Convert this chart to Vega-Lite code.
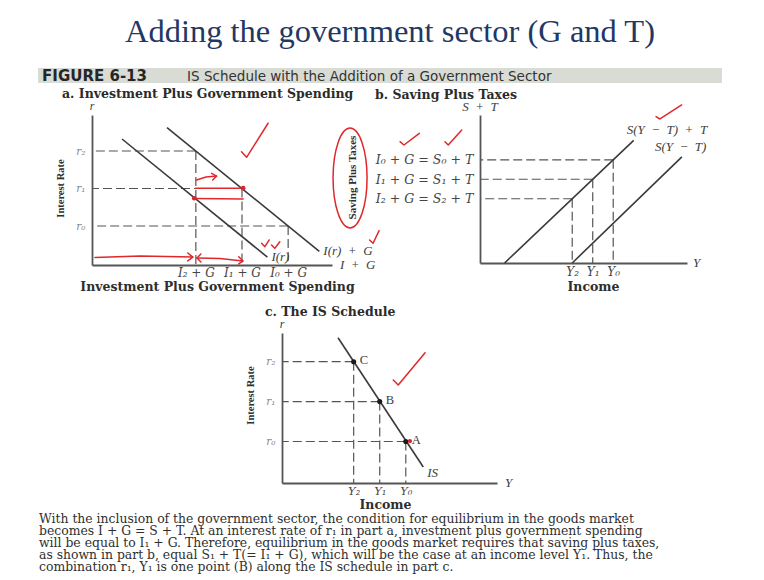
{
  "$schema": "https://vega.github.io/schema/vega-lite/v6.json",
  "padding": 0,
  "background": "#ffffff",
  "spacing": 0,
  "bounds": "flush",
  "config": {
    "view": {"stroke": null},
    "font": "Liberation Serif",
    "axis": {
      "grid": false,
      "ticks": false,
      "domainColor": "#555555",
      "domainWidth": 1.8,
      "labelFont": "DejaVu Serif",
      "labelFontStyle": "italic",
      "labelFontSize": 12,
      "labelColor": "#454545",
      "labelOverlap": false,
      "labelFlush": false,
      "titleFont": "DejaVu Serif",
      "titleFontWeight": "bold",
      "titleFontSize": 12.5,
      "titleColor": "#2e2e2e"
    },
    "title": {"anchor": "start", "frame": "group", "baseline": "alphabetic", "font": "DejaVu Serif", "fontSize": 12.5, "fontWeight": "bold", "color": "#2b2b2b"},
    "text": {"font": "Liberation Serif", "fontStyle": "italic", "fontSize": 13, "color": "#3d3d3d"},
    "rule": {"stroke": "#555555", "strokeWidth": 1.2, "strokeDash": [9, 4]},
    "line": {"stroke": "#3a3a3a", "strokeWidth": 1.6}
  },
  "datasets": {
    "equilibria": [
      {"state": 0, "r": 2.6, "IG": 8.5, "Y": 6.5, "point": "A"},
      {"state": 1, "r": 5.1, "IG": 6.5, "Y": 5.5, "point": "B"},
      {"state": 2, "r": 7.6, "IG": 4.5, "Y": 4.5, "point": "C"}
    ],
    "curves": [
      {"panel": "a", "series": "I(r)\u2002+\u2002G", "x": 3.25, "y": 9.16},
      {"panel": "a", "series": "I(r)\u2002+\u2002G", "x": 9.85, "y": 0.91},
      {"panel": "a", "series": "I(r)", "x": 1.3, "y": 8.4},
      {"panel": "a", "series": "I(r)", "x": 7.6, "y": 0.525},
      {"panel": "b", "series": "S(Y\u2002\u2212\u2002T)\u2002+\u2002T", "x": 1.2, "y": -2.1},
      {"panel": "b", "series": "S(Y\u2002\u2212\u2002T)\u2002+\u2002T", "x": 7.5, "y": 10.5},
      {"panel": "b", "series": "S(Y\u2002\u2212\u2002T)", "x": 4.5, "y": -2.1},
      {"panel": "b", "series": "S(Y\u2002\u2212\u2002T)", "x": 9.85, "y": 8.8},
      {"panel": "c", "series": "IS", "x": 3.9, "y": 9.1},
      {"panel": "c", "series": "IS", "x": 7.17, "y": 1.0}
    ],
    "ink": [
      {"panel": "a", "trace": "check", "i": 0, "x": 6.48, "y": 7.55},
      {"panel": "a", "trace": "check", "i": 1, "x": 6.7, "y": 7.18},
      {"panel": "a", "trace": "check", "i": 2, "x": 7.63, "y": 9.45},
      {"panel": "a", "trace": "arrowR1", "i": 0, "x": 4.53, "y": 5.67},
      {"panel": "a", "trace": "arrowR1", "i": 1, "x": 4.94, "y": 5.87},
      {"panel": "a", "trace": "arrowR1", "i": 2, "x": 5.4, "y": 5.93},
      {"panel": "a", "trace": "arrowR1Head", "i": 0, "x": 5.18, "y": 6.11},
      {"panel": "a", "trace": "arrowR1Head", "i": 1, "x": 5.4, "y": 5.93},
      {"panel": "a", "trace": "arrowR1Head", "i": 2, "x": 5.23, "y": 5.67},
      {"panel": "a", "trace": "barR1", "i": 0, "x": 4.49, "y": 5.12},
      {"panel": "a", "trace": "barR1", "i": 1, "x": 6.55, "y": 5.12},
      {"panel": "a", "trace": "barIr", "i": 0, "x": 4.46, "y": 4.43},
      {"panel": "a", "trace": "barIr", "i": 1, "x": 6.55, "y": 4.4},
      {"panel": "a", "trace": "arrowLong", "i": 0, "x": 0.13, "y": 0.5},
      {"panel": "a", "trace": "arrowLong", "i": 1, "x": 2.08, "y": 0.6},
      {"panel": "a", "trace": "arrowLong", "i": 2, "x": 4.37, "y": 0.53},
      {"panel": "a", "trace": "arrowLongHead", "i": 0, "x": 4.15, "y": 0.8},
      {"panel": "a", "trace": "arrowLongHead", "i": 1, "x": 4.37, "y": 0.53},
      {"panel": "a", "trace": "arrowLongHead", "i": 2, "x": 4.15, "y": 0.27},
      {"panel": "a", "trace": "arrowBoth", "i": 0, "x": 4.55, "y": 0.47},
      {"panel": "a", "trace": "arrowBoth", "i": 1, "x": 5.54, "y": 0.43},
      {"panel": "a", "trace": "arrowBoth", "i": 2, "x": 6.54, "y": 0.27},
      {"panel": "a", "trace": "arrowBothL", "i": 0, "x": 4.72, "y": 0.73},
      {"panel": "a", "trace": "arrowBothL", "i": 1, "x": 4.55, "y": 0.47},
      {"panel": "a", "trace": "arrowBothL", "i": 2, "x": 4.72, "y": 0.2},
      {"panel": "a", "trace": "arrowBothR", "i": 0, "x": 6.36, "y": 0.55},
      {"panel": "a", "trace": "arrowBothR", "i": 1, "x": 6.54, "y": 0.27},
      {"panel": "a", "trace": "arrowBothR", "i": 2, "x": 6.36, "y": 0.07},
      {"panel": "a", "trace": "tick1", "i": 0, "x": 7.35, "y": 1.45},
      {"panel": "a", "trace": "tick1", "i": 1, "x": 7.49, "y": 1.22},
      {"panel": "a", "trace": "tick1", "i": 2, "x": 7.68, "y": 1.67},
      {"panel": "a", "trace": "tick2", "i": 0, "x": 7.78, "y": 1.33},
      {"panel": "a", "trace": "tick2", "i": 1, "x": 7.92, "y": 1.11},
      {"panel": "a", "trace": "tick2", "i": 2, "x": 8.14, "y": 1.55},
      {"panel": "a", "trace": "tickG", "i": 0, "x": 12.03, "y": 1.67},
      {"panel": "a", "trace": "tickG", "i": 1, "x": 12.18, "y": 1.45},
      {"panel": "a", "trace": "tickG", "i": 2, "x": 12.44, "y": 2.29},
      {"panel": "b", "trace": "tickS0", "i": 0, "x": -3.9, "y": 10.36},
      {"panel": "b", "trace": "tickS0", "i": 1, "x": -3.71, "y": 10.02},
      {"panel": "b", "trace": "tickS0", "i": 2, "x": -2.96, "y": 11.22},
      {"panel": "b", "trace": "tickS1", "i": 0, "x": -1.71, "y": 10.36},
      {"panel": "b", "trace": "tickS1", "i": 1, "x": -1.55, "y": 10.02},
      {"panel": "b", "trace": "tickS1", "i": 2, "x": -0.89, "y": 11.56},
      {"panel": "b", "trace": "tickTop", "i": 0, "x": 8.59, "y": 12.93},
      {"panel": "b", "trace": "tickTop", "i": 1, "x": 8.78, "y": 12.69},
      {"panel": "b", "trace": "tickTop", "i": 2, "x": 9.84, "y": 14.13},
      {"panel": "c", "trace": "tickIS", "i": 0, "x": 6.02, "y": 6.45},
      {"panel": "c", "trace": "tickIS", "i": 1, "x": 6.21, "y": 6.14},
      {"panel": "c", "trace": "tickIS", "i": 2, "x": 7.24, "y": 8.16}
    ],
    "inkDots": [
      {"panel": "a", "x": 6.55, "y": 5.12},
      {"panel": "a", "x": 4.43, "y": 4.45},
      {"panel": "c", "x": 6.66, "y": 2.63}
    ],
    "inkRings": [
      {"panel": "b", "x": -6.34, "y": 6.63}
    ],
    "header": [
      {"part": "number", "label": "FIGURE 6-13"},
      {"part": "caption", "label": "IS Schedule with the Addition of a Government Sector"}
    ],
    "caption": [
      {"line": 1, "text": "With the inclusion of the government sector, the condition for equilibrium in the goods market"},
      {"line": 2, "text": "becomes I + G = S + T. At an interest rate of r\u2081 in part a, investment plus government spending"},
      {"line": 3, "text": "will be equal to I\u2081 + G. Therefore, equilibrium in the goods market requires that saving plus taxes,"},
      {"line": 4, "text": "as shown in part b, equal S\u2081 + T(= I\u2081 + G), which will be the case at an income level Y\u2081. Thus, the"},
      {"line": 5, "text": "combination r\u2081, Y\u2081 is one point (B) along the IS schedule in part c."}
    ]
  },
  "vconcat": [
    {
      "width": 764,
      "height": 68,
      "data": {"values": [{"heading": "Adding the government sector (G and T)"}]},
      "mark": {"type": "text", "font": "Liberation Serif", "fontStyle": "normal", "fontSize": 32.5, "color": "#1f3864", "align": "center", "baseline": "alphabetic", "dx": 8, "dy": 8},
      "encoding": {"text": {"field": "heading"}}
    },
    {
      "hconcat": [
        {"width": 38, "height": 15, "data": {"values": []}, "mark": "point", "encoding": {}},
        {
          "width": 684,
          "height": 15,
          "view": {"fill": "#d9dcd5", "stroke": null},
          "data": {"name": "header"},
          "layer": [
            {
              "transform": [{"filter": "datum.part == 'number'"}],
              "mark": {"type": "text", "font": "DejaVu Sans", "fontStyle": "normal", "fontWeight": "bold", "fontSize": 15, "color": "#262626", "align": "left", "baseline": "middle", "dy": 0.5},
              "encoding": {
                "x": {"datum": 0.006, "type": "quantitative", "scale": {"domain": [0, 1]}, "axis": null},
                "text": {"field": "label"}
              }
            },
            {
              "transform": [{"filter": "datum.part == 'caption'"}],
              "mark": {"type": "text", "font": "DejaVu Sans", "fontStyle": "normal", "fontSize": 13.5, "color": "#333333", "align": "left", "baseline": "middle", "dy": 1},
              "encoding": {
                "x": {"datum": 0.218, "type": "quantitative", "scale": {"domain": [0, 1]}, "axis": null},
                "text": {"field": "label"}
              }
            }
          ]
        },
        {"width": 42, "height": 15, "data": {"values": []}, "mark": "point", "encoding": {}}
      ],
      "spacing": 0,
      "bounds": "flush"
    },
    {"width": 764, "height": 47, "data": {"values": []}, "mark": "point", "encoding": {}},
    {
      "hconcat": [
        {"width": 92, "height": 150, "data": {"values": []}, "mark": "point", "encoding": {}},
        {
          "width": 240,
          "height": 150,
          "title": {"text": "a. Investment Plus Government Spending", "dx": -30, "offset": 0},
          "layer": [
            {
              "data": {"name": "equilibria"},
              "mark": {"type": "rule"},
              "encoding": {
                "x": {"field": "IG", "type": "quantitative", "scale": {"domain": [0, 10.4], "nice": false, "zero": false},
                  "axis": {"title": "Investment Plus Government Spending", "values": [4.5, 6.5, 8.5],
                    "labelExpr": "datum.value < 5 ? 'I\u2082 + G' : datum.value < 7 ? 'I\u2081 + G' : 'I\u2080 + G'",
                    "labelPadding": 2, "titleX": 125, "titleY": 25, "titleBaseline": "alphabetic"}},
                "x2": {"value": 0},
                "y": {"field": "r", "type": "quantitative", "scale": {"domain": [0, 10], "nice": false, "zero": false},
                  "axis": {"title": "Interest Rate", "values": [2.6, 5.1, 7.6],
                    "labelExpr": "datum.value < 3 ? 'r\u2080' : datum.value < 6 ? 'r\u2081' : 'r\u2082'",
                    "labelColor": "#8a8a8a", "labelFontSize": 10.5, "labelPadding": 7,
                    "titleFont": "Liberation Serif", "titleFontSize": 10.5, "titleX": -32, "titleY": 73, "titleAngle": -90, "titleBaseline": "middle"}}
              }
            },
            {
              "data": {"name": "equilibria"},
              "mark": {"type": "rule"},
              "encoding": {
                "x": {"field": "IG", "type": "quantitative", "scale": {"domain": [0, 10.4], "nice": false, "zero": false}},
                "y": {"field": "r", "type": "quantitative", "scale": {"domain": [0, 10], "nice": false, "zero": false}},
                "y2": {"value": "height"}
              }
            },
            {
              "data": {"name": "curves"},
              "transform": [{"filter": "datum.panel == 'a'"}],
              "mark": {"type": "line"},
              "encoding": {
                "x": {"field": "x", "type": "quantitative", "scale": {"domain": [0, 10.4], "nice": false, "zero": false}},
                "y": {"field": "y", "type": "quantitative", "scale": {"domain": [0, 10], "nice": false, "zero": false}},
                "detail": {"field": "series"}
              }
            },
            {
              "data": {"name": "curves"},
              "transform": [
                {"filter": "datum.panel == 'a'"},
                {"joinaggregate": [{"op": "max", "field": "x", "as": "xEnd"}], "groupby": ["series"]},
                {"filter": "datum.x == datum.xEnd"}
              ],
              "mark": {"type": "text", "align": "left", "baseline": "middle", "dx": 4, "dy": 0},
              "encoding": {
                "x": {"field": "x", "type": "quantitative", "scale": {"domain": [0, 10.4], "nice": false, "zero": false}},
                "y": {"field": "y", "type": "quantitative", "scale": {"domain": [0, 10], "nice": false, "zero": false}},
                "text": {"field": "series"}
              }
            },
            {
              "data": {"values": [{}]},
              "mark": {"type": "text", "text": "r", "align": "center", "baseline": "alphabetic", "dy": -5, "fontSize": 12},
              "encoding": {
                "x": {"datum": 0, "type": "quantitative", "scale": {"domain": [0, 10.4], "nice": false, "zero": false}},
                "y": {"datum": 10, "type": "quantitative", "scale": {"domain": [0, 10], "nice": false, "zero": false}}
              }
            },
            {
              "data": {"values": [{}]},
              "mark": {"type": "text", "text": "I\u2002+\u2002G", "align": "left", "baseline": "middle", "dx": 8, "dy": 0},
              "encoding": {
                "x": {"datum": 10.4, "type": "quantitative", "scale": {"domain": [0, 10.4], "nice": false, "zero": false}},
                "y": {"datum": 0, "type": "quantitative", "scale": {"domain": [0, 10], "nice": false, "zero": false}}
              }
            },
            {
              "data": {"name": "ink"},
              "transform": [{"filter": "datum.panel == 'a'"}],
              "mark": {"type": "line", "stroke": "#e0282c", "strokeWidth": 1.5, "strokeCap": "round", "strokeJoin": "round"},
              "encoding": {
                "x": {"field": "x", "type": "quantitative", "scale": {"domain": [0, 10.4], "nice": false, "zero": false}},
                "y": {"field": "y", "type": "quantitative", "scale": {"domain": [0, 10], "nice": false, "zero": false}},
                "detail": {"field": "trace", "type": "nominal"},
                "order": {"field": "i", "type": "quantitative"}
              }
            },
            {
              "data": {"name": "inkDots"},
              "transform": [{"filter": "datum.panel == 'a'"}],
              "mark": {"type": "point", "filled": true, "color": "#d8262b", "size": 22, "opacity": 1},
              "encoding": {
                "x": {"field": "x", "type": "quantitative", "scale": {"domain": [0, 10.4], "nice": false, "zero": false}},
                "y": {"field": "y", "type": "quantitative", "scale": {"domain": [0, 10], "nice": false, "zero": false}}
              }
            }
          ]
        },
        {"width": 148, "height": 150, "data": {"values": []}, "mark": "point", "encoding": {}},
        {
          "width": 207,
          "height": 148,
          "title": {"text": "b. Saving Plus Taxes", "dx": -105, "offset": 0},
          "layer": [
            {
              "data": {"name": "equilibria"},
              "mark": {"type": "rule"},
              "encoding": {
                "x": {"field": "Y", "type": "quantitative", "scale": {"domain": [0, 10.1], "nice": false, "zero": false},
                  "axis": {"title": "Income", "values": [4.5, 5.5, 6.5],
                    "labelExpr": "datum.value < 5 ? 'Y\u2082' : datum.value < 6 ? 'Y\u2081' : 'Y\u2080'",
                    "labelPadding": 3, "titleX": 113, "titleY": 27, "titleBaseline": "alphabetic"}},
                "x2": {"value": 0},
                "y": {"field": "IG", "type": "quantitative", "scale": {"domain": [-2.1, 13.1], "nice": false, "zero": false},
                  "axis": {"title": "Saving Plus Taxes", "values": [4.5, 6.5, 8.5],
                    "labelExpr": "datum.value < 5 ? 'I\u2082 + G = S\u2082 + T' : datum.value < 7 ? 'I\u2081 + G = S\u2081 + T' : 'I\u2080 + G = S\u2080 + T'",
                    "labelFontSize": 12.6, "labelPadding": 7,
                    "titleFont": "Liberation Serif", "titleFontSize": 11, "titleX": -128, "titleY": 62, "titleAngle": -90, "titleBaseline": "middle"}}
              }
            },
            {
              "data": {"name": "equilibria"},
              "mark": {"type": "rule"},
              "encoding": {
                "x": {"field": "Y", "type": "quantitative", "scale": {"domain": [0, 10.1], "nice": false, "zero": false}},
                "y": {"field": "IG", "type": "quantitative", "scale": {"domain": [-2.1, 13.1], "nice": false, "zero": false}},
                "y2": {"value": "height"}
              }
            },
            {
              "data": {"name": "curves"},
              "transform": [{"filter": "datum.panel == 'b'"}],
              "mark": {"type": "line"},
              "encoding": {
                "x": {"field": "x", "type": "quantitative", "scale": {"domain": [0, 10.1], "nice": false, "zero": false}},
                "y": {"field": "y", "type": "quantitative", "scale": {"domain": [-2.1, 13.1], "nice": false, "zero": false}},
                "detail": {"field": "series"}
              }
            },
            {
              "data": {"name": "curves"},
              "transform": [
                {"filter": "datum.panel == 'b'"},
                {"joinaggregate": [{"op": "max", "field": "x", "as": "xEnd"}], "groupby": ["series"]},
                {"filter": "datum.x == datum.xEnd && datum.x < 8"}
              ],
              "mark": {"type": "text", "align": "left", "baseline": "middle", "dx": -7, "dy": -10},
              "encoding": {
                "x": {"field": "x", "type": "quantitative", "scale": {"domain": [0, 10.1], "nice": false, "zero": false}},
                "y": {"field": "y", "type": "quantitative", "scale": {"domain": [-2.1, 13.1], "nice": false, "zero": false}},
                "text": {"field": "series"}
              }
            },
            {
              "data": {"name": "curves"},
              "transform": [
                {"filter": "datum.panel == 'b'"},
                {"joinaggregate": [{"op": "max", "field": "x", "as": "xEnd"}], "groupby": ["series"]},
                {"filter": "datum.x == datum.xEnd && datum.x > 8"}
              ],
              "mark": {"type": "text", "align": "left", "baseline": "middle", "dx": -27, "dy": -10},
              "encoding": {
                "x": {"field": "x", "type": "quantitative", "scale": {"domain": [0, 10.1], "nice": false, "zero": false}},
                "y": {"field": "y", "type": "quantitative", "scale": {"domain": [-2.1, 13.1], "nice": false, "zero": false}},
                "text": {"field": "series"}
              }
            },
            {
              "data": {"values": [{}]},
              "mark": {"type": "text", "text": "S\u2002+\u2002T", "align": "center", "baseline": "alphabetic", "dy": -4},
              "encoding": {
                "x": {"datum": 0, "type": "quantitative", "scale": {"domain": [0, 10.1], "nice": false, "zero": false}},
                "y": {"datum": 13.1, "type": "quantitative", "scale": {"domain": [-2.1, 13.1], "nice": false, "zero": false}}
              }
            },
            {
              "data": {"values": [{}]},
              "mark": {"type": "text", "text": "Y", "align": "left", "baseline": "middle", "dx": 6, "dy": 0},
              "encoding": {
                "x": {"datum": 10.1, "type": "quantitative", "scale": {"domain": [0, 10.1], "nice": false, "zero": false}},
                "y": {"datum": -2.1, "type": "quantitative", "scale": {"domain": [-2.1, 13.1], "nice": false, "zero": false}}
              }
            },
            {
              "data": {"name": "ink"},
              "transform": [{"filter": "datum.panel == 'b'"}],
              "mark": {"type": "line", "stroke": "#e0282c", "strokeWidth": 1.5, "strokeCap": "round", "strokeJoin": "round"},
              "encoding": {
                "x": {"field": "x", "type": "quantitative", "scale": {"domain": [0, 10.1], "nice": false, "zero": false}},
                "y": {"field": "y", "type": "quantitative", "scale": {"domain": [-2.1, 13.1], "nice": false, "zero": false}},
                "detail": {"field": "trace", "type": "nominal"},
                "order": {"field": "i", "type": "quantitative"}
              }
            },
            {
              "data": {"name": "inkRings"},
              "transform": [{"filter": "datum.panel == 'b'"}],
              "mark": {"type": "point", "shape": "M-0.34,0A0.34,1,0,1,1,0.34,0A0.34,1,0,1,1,-0.34,0Z", "size": 10000, "filled": false, "stroke": "#e0282c", "strokeWidth": 1.5, "opacity": 1},
              "encoding": {
                "x": {"field": "x", "type": "quantitative", "scale": {"domain": [0, 10.1], "nice": false, "zero": false}},
                "y": {"field": "y", "type": "quantitative", "scale": {"domain": [-2.1, 13.1], "nice": false, "zero": false}}
              }
            }
          ]
        },
        {"width": 77, "height": 150, "data": {"values": []}, "mark": "point", "encoding": {}}
      ],
      "spacing": 0,
      "bounds": "flush"
    },
    {"width": 764, "height": 218, "data": {"values": []}, "mark": "point", "encoding": {}},
    {
      "hconcat": [
        {"width": 282, "height": 150, "data": {"values": []}, "mark": "point", "encoding": {}},
        {
          "width": 215,
          "height": 150,
          "title": {"text": "c. The IS Schedule", "dx": -17, "offset": 0},
          "layer": [
            {
              "data": {"name": "equilibria"},
              "mark": {"type": "rule"},
              "encoding": {
                "x": {"field": "Y", "type": "quantitative", "scale": {"domain": [1.75, 10], "nice": false, "zero": false},
                  "axis": {"title": "Income", "values": [4.5, 5.5, 6.5],
                    "labelExpr": "datum.value < 5 ? 'Y\u2082' : datum.value < 6 ? 'Y\u2081' : 'Y\u2080'",
                    "labelFontSize": 11.5, "labelPadding": 2, "titleX": 103, "titleY": 25, "titleBaseline": "alphabetic"}},
                "x2": {"value": 0},
                "y": {"field": "r", "type": "quantitative", "scale": {"domain": [0, 9.4], "nice": false, "zero": false},
                  "axis": {"title": "Interest Rate", "values": [2.6, 5.1, 7.6],
                    "labelExpr": "datum.value < 3 ? 'r\u2080' : datum.value < 6 ? 'r\u2081' : 'r\u2082'",
                    "labelColor": "#8a8a8a", "labelFontSize": 10.5, "labelPadding": 7,
                    "titleFont": "Liberation Serif", "titleFontSize": 10.5, "titleX": -32, "titleY": 62, "titleAngle": -90, "titleBaseline": "middle"}}
              }
            },
            {
              "data": {"name": "equilibria"},
              "mark": {"type": "rule"},
              "encoding": {
                "x": {"field": "Y", "type": "quantitative", "scale": {"domain": [1.75, 10], "nice": false, "zero": false}},
                "y": {"field": "r", "type": "quantitative", "scale": {"domain": [0, 9.4], "nice": false, "zero": false}},
                "y2": {"value": "height"}
              }
            },
            {
              "data": {"name": "curves"},
              "transform": [{"filter": "datum.panel == 'c'"}],
              "mark": {"type": "line"},
              "encoding": {
                "x": {"field": "x", "type": "quantitative", "scale": {"domain": [1.75, 10], "nice": false, "zero": false}},
                "y": {"field": "y", "type": "quantitative", "scale": {"domain": [0, 9.4], "nice": false, "zero": false}},
                "detail": {"field": "series"}
              }
            },
            {
              "data": {"name": "curves"},
              "transform": [
                {"filter": "datum.panel == 'c'"},
                {"joinaggregate": [{"op": "max", "field": "x", "as": "xEnd"}], "groupby": ["series"]},
                {"filter": "datum.x == datum.xEnd"}
              ],
              "mark": {"type": "text", "align": "left", "baseline": "middle", "dx": 4, "dy": 6},
              "encoding": {
                "x": {"field": "x", "type": "quantitative", "scale": {"domain": [1.75, 10], "nice": false, "zero": false}},
                "y": {"field": "y", "type": "quantitative", "scale": {"domain": [0, 9.4], "nice": false, "zero": false}},
                "text": {"field": "series"}
              }
            },
            {
              "data": {"name": "equilibria"},
              "mark": {"type": "point", "filled": true, "color": "#1a1a1a", "size": 26, "opacity": 1},
              "encoding": {
                "x": {"field": "Y", "type": "quantitative", "scale": {"domain": [1.75, 10], "nice": false, "zero": false}},
                "y": {"field": "r", "type": "quantitative", "scale": {"domain": [0, 9.4], "nice": false, "zero": false}}
              }
            },
            {
              "data": {"name": "equilibria"},
              "mark": {"type": "text", "fontStyle": "normal", "fontSize": 12.5, "align": "left", "baseline": "middle", "dx": 6, "dy": -2},
              "encoding": {
                "x": {"field": "Y", "type": "quantitative", "scale": {"domain": [1.75, 10], "nice": false, "zero": false}},
                "y": {"field": "r", "type": "quantitative", "scale": {"domain": [0, 9.4], "nice": false, "zero": false}},
                "text": {"field": "point"}
              }
            },
            {
              "data": {"values": [{}]},
              "mark": {"type": "text", "text": "r", "align": "center", "baseline": "alphabetic", "dy": -5, "fontSize": 12},
              "encoding": {
                "x": {"datum": 1.75, "type": "quantitative", "scale": {"domain": [1.75, 10], "nice": false, "zero": false}},
                "y": {"datum": 9.4, "type": "quantitative", "scale": {"domain": [0, 9.4], "nice": false, "zero": false}}
              }
            },
            {
              "data": {"values": [{}]},
              "mark": {"type": "text", "text": "Y", "align": "left", "baseline": "middle", "dx": 8, "dy": 0},
              "encoding": {
                "x": {"datum": 10, "type": "quantitative", "scale": {"domain": [1.75, 10], "nice": false, "zero": false}},
                "y": {"datum": 0, "type": "quantitative", "scale": {"domain": [0, 9.4], "nice": false, "zero": false}}
              }
            },
            {
              "data": {"name": "ink"},
              "transform": [{"filter": "datum.panel == 'c'"}],
              "mark": {"type": "line", "stroke": "#e0282c", "strokeWidth": 1.5, "strokeCap": "round", "strokeJoin": "round"},
              "encoding": {
                "x": {"field": "x", "type": "quantitative", "scale": {"domain": [1.75, 10], "nice": false, "zero": false}},
                "y": {"field": "y", "type": "quantitative", "scale": {"domain": [0, 9.4], "nice": false, "zero": false}},
                "detail": {"field": "trace", "type": "nominal"},
                "order": {"field": "i", "type": "quantitative"}
              }
            },
            {
              "data": {"name": "inkDots"},
              "transform": [{"filter": "datum.panel == 'c'"}],
              "mark": {"type": "point", "filled": true, "color": "#d8262b", "size": 18, "opacity": 1},
              "encoding": {
                "x": {"field": "x", "type": "quantitative", "scale": {"domain": [1.75, 10], "nice": false, "zero": false}},
                "y": {"field": "y", "type": "quantitative", "scale": {"domain": [0, 9.4], "nice": false, "zero": false}}
              }
            }
          ]
        },
        {"width": 267, "height": 150, "data": {"values": []}, "mark": "point", "encoding": {}}
      ],
      "spacing": 0,
      "bounds": "flush"
    },
    {"width": 764, "height": 180, "data": {"values": []}, "mark": "point", "encoding": {}},
    {
      "hconcat": [
        {"width": 39, "height": 60, "data": {"values": []}, "mark": "point", "encoding": {}},
        {
          "width": 725,
          "height": 60,
          "data": {"name": "caption"},
          "mark": {"type": "text", "font": "DejaVu Serif", "fontStyle": "normal", "fontSize": 12.4, "color": "#2f2f2f", "align": "left", "baseline": "middle"},
          "encoding": {
            "x": {"datum": 0, "type": "quantitative", "scale": {"domain": [0, 1]}, "axis": null},
            "y": {"field": "line", "type": "ordinal", "axis": null},
            "text": {"field": "text"}
          }
        }
      ],
      "spacing": 0,
      "bounds": "flush"
    }
  ]
}
